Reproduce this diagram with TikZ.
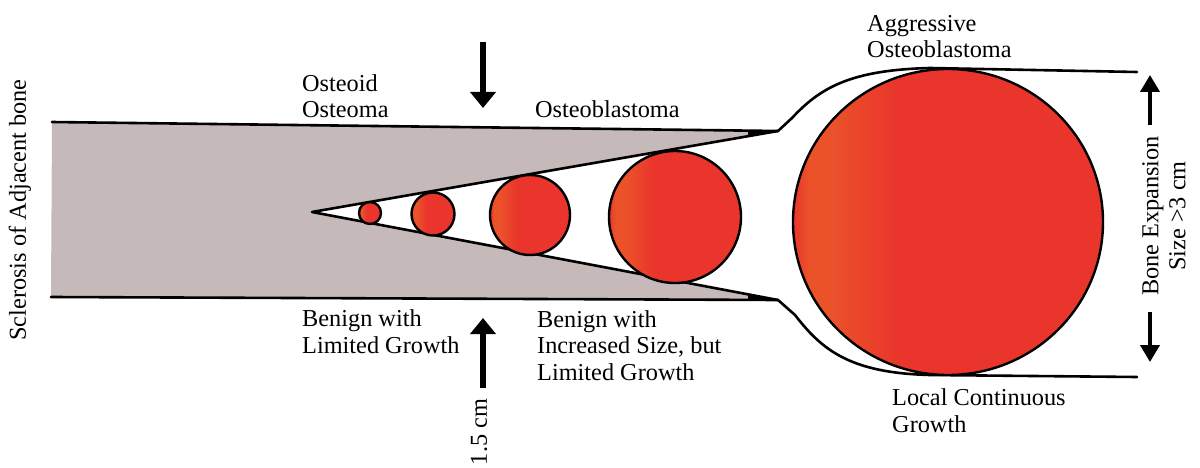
\documentclass[tikz,border=0pt]{standalone}
\usepackage{fontspec}
\setmainfont{Liberation Serif}
\usetikzlibrary{arrows.meta}
\definecolor{bonegray}{RGB}{197,186,185}
\definecolor{lesionred}{RGB}{233,53,44}
\definecolor{lesionglow}{RGB}{235,82,42}
% red disc with a soft orange crescent on its left side
\pgfdeclarehorizontalshading{lesionshade}{100bp}{%
  color(0bp)=(lesionred); color(25bp)=(lesionred); color(27.5bp)=(lesionglow);
  color(31bp)=(lesionglow); color(42bp)=(lesionred); color(100bp)=(lesionred)}

\begin{document}
\begin{tikzpicture}[x=1pt,y=-1pt,
  lbl/.style={font=\fontsize{24.3}{26.5}\selectfont, inner sep=0pt, align=left, anchor=base west},
  rlbl/.style={font=\fontsize{24.3}{27}\selectfont, inner sep=0pt, rotate=90, align=center},
  outline/.style={line width=2.6pt, line join=round, line cap=round},
  lesion/.style={shading=lesionshade, draw=black, line width=2.4pt},
  bigarrow/.style={line width=6pt, -{Triangle[width=25pt,length=16pt]}},
  sidearrow/.style={line width=4pt, -{Triangle[width=19pt,length=17pt]}}
]
\useasboundingbox (0,0) rectangle (1200,468);

% cortical bone with the conical cavity
\fill[bonegray] (52,122) -- (777,131) -- (312,212) -- (777,300) -- (51,297) -- cycle;
\fill[black] (748,130.4) -- (779,131) -- (748,136.1) -- cycle;
\fill[black] (748,294.5) -- (779,300) -- (748,299.9) -- cycle;

% outer contour and expanded shell
\draw[outline] (52,122) -- (778,131) -- (792,118) .. controls (820,88) and (850,70) .. (930,68) -- (1137,72);
\draw[outline] (51,297) -- (778,300) -- (795,315) .. controls (822,350) and (850,373) .. (930,375) -- (1137,377);
% inner cavity
\draw[outline] (778,131) -- (312,212) -- (778,300);

% lesions of increasing size
\draw[lesion] (370,213) circle[radius=11];
\draw[lesion] (433,214) circle[radius=21.5];
\draw[lesion] (530,215) circle[radius=40];
\draw[lesion] (675,217) circle[radius=66];
\draw[lesion] (948,222) ellipse[x radius=155, y radius=153];

% size arrows
\coordinate (dnA) at (483,42);
\coordinate (dnB) at (483,108);
\coordinate (upA) at (483,388);
\coordinate (upB) at (483,318);
\coordinate (exA) at (1150,125);
\coordinate (exB) at (1150,75);
\coordinate (exC) at (1150,312);
\coordinate (exD) at (1150,362);
\draw[bigarrow] (dnA) -- (dnB);
\draw[bigarrow] (upA) -- (upB);
\draw[sidearrow] (exA) -- (exB);
\draw[sidearrow] (exC) -- (exD);

% labels (anchored on the baseline of their last line)
\node[rlbl] (sclerosis) at (20,210) {Sclerosis of Adjacent bone};
\node[lbl] (osteoid) at (302,118) {Osteoid\\Osteoma};
\node[lbl] (osteoblastoma) at (535,118) {Osteoblastoma};
\node[lbl] (aggressive) at (867,58) {Aggressive\\Osteoblastoma};
\node[lbl] (benignA) at (302,353) {Benign with\\Limited Growth};
\node[lbl] (benignB) at (537,380) {Benign with\\Increased Size, but\\Limited Growth};
\node[lbl] (local) at (892,432) {Local Continuous\\Growth};
\node[rlbl] (size) at (479,432) {1.5 cm};
\node[rlbl] (expansion) at (1164,216) {Bone Expansion\\Size >3 cm};
\end{tikzpicture}
\end{document}
